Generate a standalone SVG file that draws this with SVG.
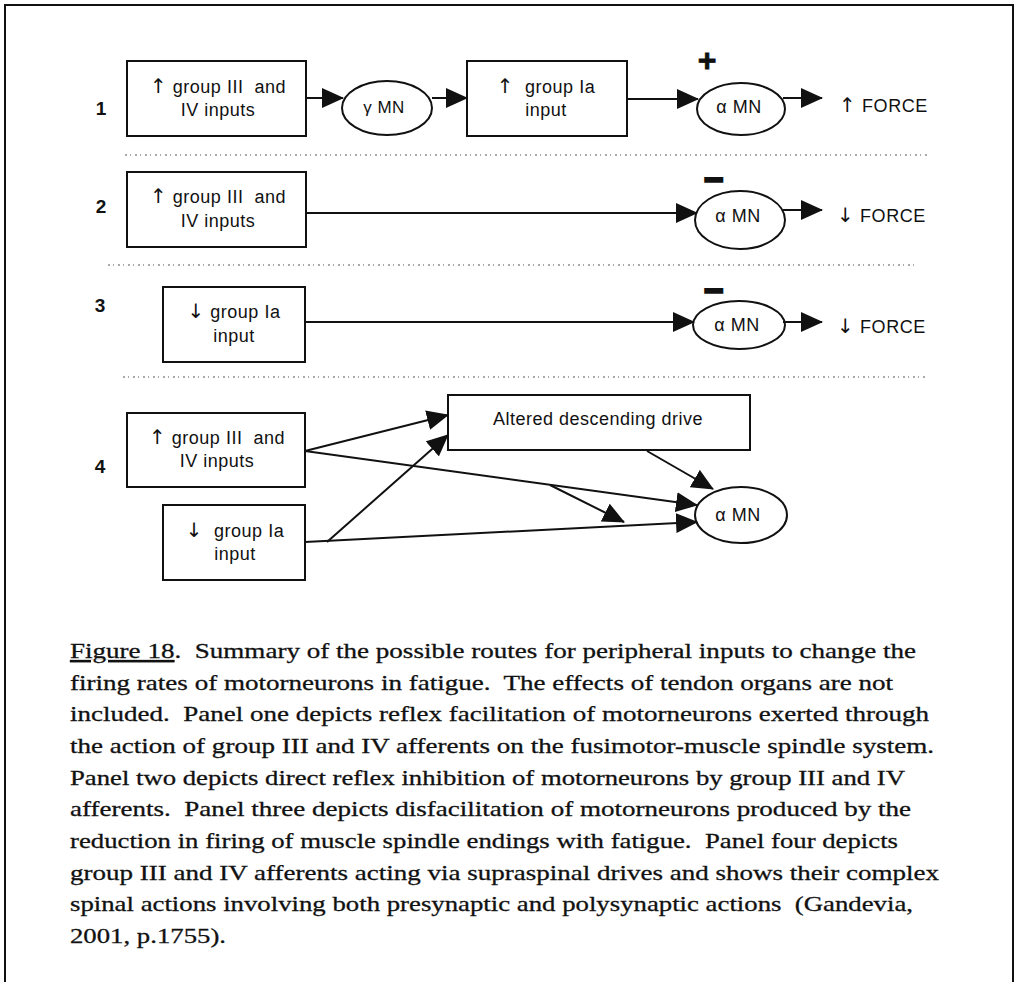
<svg xmlns="http://www.w3.org/2000/svg" width="1015" height="982" viewBox="0 0 1015 982">
<defs>
<marker id="ah" markerUnits="userSpaceOnUse" markerWidth="22" markerHeight="20" refX="21" refY="10" orient="auto" viewBox="0 0 22 20"><path d="M0,0 L22,10 L0,20 z" fill="#111"/></marker>
</defs>
<style>
.box{fill:#fff;stroke:#111;stroke-width:2}
.ell{fill:#fff;stroke:#111;stroke-width:2}
.lbl{font-family:"Liberation Sans",Arial,sans-serif;font-size:18px;letter-spacing:0.5px;fill:#111;text-anchor:middle;white-space:pre}
.arr{font-family:"DejaVu Sans",sans-serif;font-size:20px}
.num{font-family:"Liberation Sans",Arial,sans-serif;font-size:19px;font-weight:bold;fill:#111;text-anchor:middle}
.sign{font-family:"Liberation Sans",Arial,sans-serif;font-weight:bold;fill:#111;stroke:#111;text-anchor:middle}
.force{font-family:"Liberation Sans",Arial,sans-serif;font-size:18px;letter-spacing:0.6px;fill:#111;white-space:pre}
.con{stroke:#111;stroke-width:2;fill:none;marker-end:url(#ah)}
.sep{stroke:#555;stroke-width:1;stroke-dasharray:2 3 1 4}
.cap{font-family:"Liberation Serif","Times New Roman",serif;font-size:22px;fill:#111;stroke:#111;stroke-width:0.3;white-space:pre}
.frame{stroke:#111;stroke-width:2;fill:none}
</style>
<path class="frame" d="M5,982 L5,5 L1013,5 L1013,982"/>
<g id="separators">
<line class="sep" x1="125" y1="155" x2="927" y2="155"/>
<line class="sep" x1="108" y1="265" x2="918" y2="265"/>
<line class="sep" x1="123" y1="377" x2="927" y2="377"/>
</g>
<g id="panel-numbers">
<text class="num" x="101" y="115">1</text>
<text class="num" x="101" y="213">2</text>
<text class="num" x="100" y="312">3</text>
<text class="num" x="100" y="473">4</text>
</g>
<g id="p1-group34"><rect class="box" x="127" y="61" width="179" height="75"/><text class="lbl" x="218" y="93"><tspan class="arr">↑</tspan> group III  and</text><text class="lbl" x="218" y="116">IV inputs</text></g>
<g id="p1-gammaMN"><ellipse class="ell" cx="387" cy="108" rx="45" ry="27"/><text class="lbl" x="384" y="113" style="font-size:17px">γ MN</text></g>
<g id="p1-groupIa"><rect class="box" x="467" y="61" width="160" height="75"/><text class="lbl" x="546" y="93"><tspan class="arr">↑</tspan>  group Ia</text><text class="lbl" x="546" y="116">input</text></g>
<g id="p1-alphaMN"><ellipse class="ell" cx="741" cy="109" rx="44" ry="26"/><text class="lbl" x="739" y="113">α MN</text><text class="sign" x="707" y="71" style="font-size:32px;stroke-width:0.8">+</text></g>
<g id="p1-force"><text class="force" x="839" y="112"><tspan class="arr">↑</tspan> FORCE</text></g>
<g id="p2-group34"><rect class="box" x="127" y="172" width="179" height="75"/><text class="lbl" x="218" y="203"><tspan class="arr">↑</tspan> group III  and</text><text class="lbl" x="218" y="227">IV inputs</text></g>
<g id="p2-alphaMN"><ellipse class="ell" cx="740" cy="220" rx="45" ry="29"/><text class="lbl" x="738" y="222">α MN</text><text class="sign" x="714" y="191" style="font-size:34px;stroke-width:2">−</text></g>
<g id="p2-force"><text class="force" x="837" y="222"><tspan class="arr">↓</tspan> FORCE</text></g>
<g id="p3-groupIa"><rect class="box" x="163" y="287" width="142" height="75"/><text class="lbl" x="234" y="318"><tspan class="arr">↓</tspan> group Ia</text><text class="lbl" x="234" y="342">input</text></g>
<g id="p3-alphaMN"><ellipse class="ell" cx="739" cy="325" rx="46" ry="24"/><text class="lbl" x="737" y="331">α MN</text><text class="sign" x="714" y="302" style="font-size:34px;stroke-width:2">−</text></g>
<g id="p3-force"><text class="force" x="837" y="333"><tspan class="arr">↓</tspan> FORCE</text></g>
<g id="p4-group34"><rect class="box" x="127" y="413" width="178" height="74"/><text class="lbl" x="217" y="444"><tspan class="arr">↑</tspan> group III  and</text><text class="lbl" x="217" y="467">IV inputs</text></g>
<g id="p4-groupIa"><rect class="box" x="163" y="505" width="142" height="75"/><text class="lbl" x="235" y="537"><tspan class="arr">↓</tspan>  group Ia</text><text class="lbl" x="235" y="560">input</text></g>
<g id="p4-descending"><rect class="box" x="448" y="395" width="302" height="55"/><text class="lbl" x="598" y="425">Altered descending drive</text></g>
<g id="p4-alphaMN"><ellipse class="ell" cx="741" cy="515" rx="46" ry="28"/><text class="lbl" x="738" y="521">α MN</text></g>
<g id="connectors">
<line class="con" x1="306" y1="98" x2="343" y2="98"/>
<line class="con" x1="432" y1="98" x2="467" y2="98"/>
<line class="con" x1="627" y1="99" x2="698" y2="99"/>
<line class="con" x1="783" y1="98" x2="822" y2="98"/>
<line class="con" x1="306" y1="213" x2="697" y2="213"/>
<line class="con" x1="783" y1="210" x2="822" y2="210"/>
<line class="con" x1="305" y1="322" x2="694" y2="322"/>
<line class="con" x1="783" y1="322" x2="822" y2="322"/>
<line class="con" x1="305" y1="451" x2="448" y2="415"/>
<line class="con" x1="305" y1="451" x2="697" y2="505"/>
<line class="con" x1="550" y1="485" x2="624" y2="522"/>
<line class="con" x1="647" y1="451" x2="713" y2="489"/>
<line class="con" x1="305" y1="542" x2="697" y2="522"/>
<line class="con" x1="327" y1="542" x2="448" y2="435"/>
</g>
<g id="caption">
<text class="cap" x="70" y="658" textLength="846" lengthAdjust="spacingAndGlyphs"><tspan text-decoration="underline">Figure 18</tspan>.  Summary of the possible routes for peripheral inputs to change the</text>
<text class="cap" x="70" y="690" textLength="823" lengthAdjust="spacingAndGlyphs">firing rates of motorneurons in fatigue.  The effects of tendon organs are not</text>
<text class="cap" x="70" y="721" textLength="859" lengthAdjust="spacingAndGlyphs">included.  Panel one depicts reflex facilitation of motorneurons exerted through</text>
<text class="cap" x="70" y="753" textLength="864" lengthAdjust="spacingAndGlyphs">the action of group III and IV afferents on the fusimotor-muscle spindle system.</text>
<text class="cap" x="70" y="785" textLength="835" lengthAdjust="spacingAndGlyphs">Panel two depicts direct reflex inhibition of motorneurons by group III and IV</text>
<text class="cap" x="70" y="816" textLength="841" lengthAdjust="spacingAndGlyphs">afferents.  Panel three depicts disfacilitation of motorneurons produced by the</text>
<text class="cap" x="70" y="848" textLength="828" lengthAdjust="spacingAndGlyphs">reduction in firing of muscle spindle endings with fatigue.  Panel four depicts</text>
<text class="cap" x="70" y="880" textLength="869" lengthAdjust="spacingAndGlyphs">group III and IV afferents acting via supraspinal drives and shows their complex</text>
<text class="cap" x="70" y="911" textLength="843" lengthAdjust="spacingAndGlyphs">spinal actions involving both presynaptic and polysynaptic actions  (Gandevia,</text>
<text class="cap" x="70" y="943" textLength="156" lengthAdjust="spacingAndGlyphs">2001, p.1755).</text>
</g>
</svg>
